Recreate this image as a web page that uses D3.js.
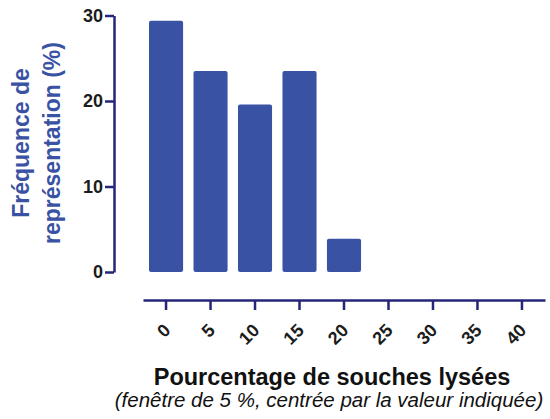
<!DOCTYPE html>
<html>
<head>
<meta charset="utf-8">
<script src="https://cdn.jsdelivr.net/npm/d3@7"></script>
<style>
  body { margin: 0; background: #fff; }
  svg { display: block; font-family: "Liberation Sans", Arial, sans-serif; }
</style>
</head>
<body>
<svg id="chart" width="550" height="419"></svg>
<script>
'use strict'

// lysis window centres (%) and share of strains in each window (%)
const categories = ['0', '5', '10', '15', '20', '25', '30', '35', '40']
const frequencies = [29.4, 23.5, 19.6, 23.5, 3.9, 0, 0, 0, 0]
const yTicks = [0, 10, 20, 30]

const barColor = '#3a52a4'
const axisColor = '#25257a'
const textColor = '#1c1c1c'

const svg = d3.select('#chart')

const x = d3.scaleBand()
  .domain(categories)
  .range([143, 545])
  .paddingInner(0.234)
  .paddingOuter(0.135)

const y = d3.scaleLinear()
  .domain([0, 30])
  .range([272, 15.5])

// bars (empty windows are simply not drawn)
svg.append('g')
  .selectAll('rect')
  .data(categories.map((c, i) => ({ c, v: frequencies[i] })).filter(d => d.v > 0))
  .enter()
  .append('rect')
  .attr('x', d => x(d.c))
  .attr('y', d => y(d.v))
  .attr('width', x.bandwidth())
  .attr('height', d => y(0) - y(d.v))
  .attr('rx', 2)
  .attr('fill', barColor)

// y axis
const yAxis = svg.append('g')
  .attr('transform', 'translate(114,0)')
  .call(d3.axisLeft(y).tickValues(yTicks).tickSize(9).tickSizeOuter(0).tickPadding(2))

yAxis.select('.domain').attr('stroke', axisColor).attr('stroke-width', 2.5)
yAxis.selectAll('.tick line').attr('stroke', axisColor).attr('stroke-width', 2.5)
yAxis.selectAll('.tick text')
  .attr('fill', textColor)
  .style('font-size', '18px')
  .style('font-weight', 'bold')
  .style('font-family', '"Liberation Sans", Arial, sans-serif')

// x axis
const xAxis = svg.append('g')
  .attr('transform', 'translate(0,300)')
  .call(d3.axisBottom(x).tickSize(10).tickSizeOuter(0))

xAxis.select('.domain').attr('stroke', axisColor).attr('stroke-width', 2.5)
xAxis.selectAll('.tick line').attr('stroke', axisColor).attr('stroke-width', 2.5)
xAxis.selectAll('.tick text')
  .attr('x', 0)
  .attr('y', 0)
  .attr('dy', '0.35em')
  .attr('transform', 'translate(1,27) rotate(-45)')
  .attr('fill', textColor)
  .style('text-anchor', 'end')
  .style('font-size', '18px')
  .style('font-weight', 'bold')
  .style('font-family', '"Liberation Sans", Arial, sans-serif')

// y title, two lines
const yTitle = svg.append('text')
  .attr('transform', 'translate(0,143) rotate(-90)')
  .attr('text-anchor', 'middle')
  .attr('fill', barColor)
  .style('font-size', '23px')
  .style('font-weight', 'bold')

yTitle.append('tspan').attr('x', 0).attr('y', 29).text('Fréquence de')
yTitle.append('tspan').attr('x', 0).attr('y', 60).text('représentation (%)')

// x title and note
svg.append('text')
  .attr('x', 332)
  .attr('y', 385)
  .attr('text-anchor', 'middle')
  .attr('fill', '#111')
  .style('font-size', '23.5px')
  .style('font-weight', 'bold')
  .text('Pourcentage de souches lysées')

svg.append('text')
  .attr('x', 329)
  .attr('y', 407)
  .attr('text-anchor', 'middle')
  .attr('fill', '#111')
  .style('font-size', '20.5px')
  .style('font-style', 'italic')
  .text('(fenêtre de 5 %, centrée par la valeur indiquée)')
</script>
</body>
</html>
